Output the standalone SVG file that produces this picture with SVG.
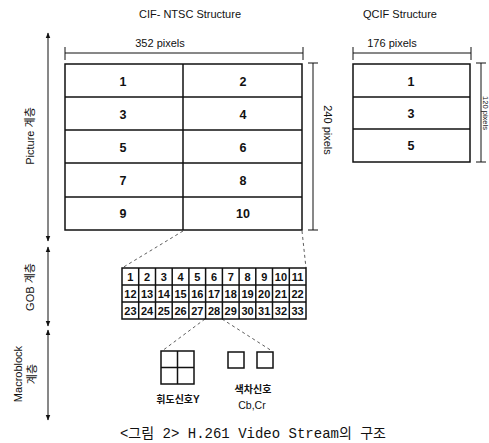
<svg xmlns="http://www.w3.org/2000/svg" width="489" height="443" viewBox="0 0 489 443">
<style>
.t{font-family:"Liberation Sans","Noto Sans CJK KR",sans-serif;fill:#111;}
.ttl{font-size:11px;text-anchor:middle;}
.num{font-size:12.5px;text-anchor:middle;font-weight:bold;}
.g{font-size:11px;text-anchor:middle;font-weight:bold;}
.ln{stroke:#111;stroke-width:1.5;fill:none;}
.thin{stroke:#111;stroke-width:1;fill:none;}
.dash{stroke:#333;stroke-width:0.8;stroke-dasharray:3,3;fill:none;}
.cap{font-family:"Liberation Mono","Noto Sans CJK KR",monospace;font-size:14px;text-anchor:middle;fill:#111;}
</style>
<defs>
<marker id="ah" viewBox="0 0 10 10" refX="9" refY="5" markerWidth="6" markerHeight="6" orient="auto-start-reverse">
<path d="M0,1 L10,5 L0,9 z" fill="#111"/>
</marker>
</defs>
<rect width="489" height="443" fill="#fff"/>

<g id="titles">
<text class="t ttl" x="190" y="18">CIF- NTSC Structure</text>
<text class="t ttl" x="400" y="18">QCIF Structure</text>
</g>

<g id="axis">
<line class="thin" x1="48" y1="33" x2="48" y2="241" marker-start="url(#ah)" marker-end="url(#ah)"/>
<line class="thin" x1="48" y1="247" x2="48" y2="326" marker-start="url(#ah)" marker-end="url(#ah)"/>
<line class="thin" x1="48" y1="330" x2="48" y2="420" marker-start="url(#ah)" marker-end="url(#ah)"/>
<text class="t" font-size="11" text-anchor="middle" transform="translate(34,136) rotate(-90)">Picture 계층</text>
<text class="t" font-size="11" text-anchor="middle" transform="translate(34,287) rotate(-90)">GOB 계층</text>
<text class="t" font-size="11" text-anchor="middle" transform="translate(22,374) rotate(-90)">Macroblock</text>
<text class="t" font-size="11" text-anchor="middle" transform="translate(36,374) rotate(-90)">계층</text>
</g>

<g id="cif">
<text class="t ttl" x="160" y="47">352 pixels</text>
<line class="thin" x1="65" y1="53" x2="303" y2="53"/>
<line class="thin" x1="65" y1="47" x2="65" y2="60"/>
<line class="thin" x1="303" y1="47" x2="303" y2="60"/>
<rect class="ln" x="65" y="64" width="237" height="166"/>
<line class="ln" x1="183" y1="64" x2="183" y2="230"/>
<line class="ln" x1="65" y1="97" x2="302" y2="97"/>
<line class="ln" x1="65" y1="130" x2="302" y2="130"/>
<line class="ln" x1="65" y1="163" x2="302" y2="163"/>
<line class="ln" x1="65" y1="197" x2="302" y2="197"/>
<text class="t num" x="123" y="86">1</text><text class="t num" x="243" y="86">2</text>
<text class="t num" x="123" y="119">3</text><text class="t num" x="243" y="119">4</text>
<text class="t num" x="123" y="152">5</text><text class="t num" x="243" y="152">6</text>
<text class="t num" x="123" y="185">7</text><text class="t num" x="243" y="185">8</text>
<text class="t num" x="123" y="218">9</text><text class="t num" x="243" y="218">10</text>
<line class="thin" x1="313" y1="63" x2="313" y2="230"/>
<line class="thin" x1="308" y1="63" x2="318" y2="63"/>
<line class="thin" x1="308" y1="230" x2="318" y2="230"/>
<text class="t" font-size="11" text-anchor="middle" transform="translate(324,130) rotate(90)">240 pixels</text>
</g>

<g id="qcif">
<text class="t ttl" x="392" y="47">176 pixels</text>
<line class="thin" x1="353" y1="53" x2="471" y2="53"/>
<line class="thin" x1="353" y1="47" x2="353" y2="60"/>
<line class="thin" x1="471" y1="47" x2="471" y2="60"/>
<rect class="ln" x="353" y="64" width="117" height="98"/>
<line class="ln" x1="353" y1="97" x2="470" y2="97"/>
<line class="ln" x1="353" y1="129" x2="470" y2="129"/>
<text class="t num" x="411" y="86">1</text>
<text class="t num" x="411" y="118">3</text>
<text class="t num" x="411" y="150">5</text>
<line class="thin" x1="481" y1="63" x2="481" y2="162"/>
<line class="thin" x1="476" y1="63" x2="486" y2="63"/>
<line class="thin" x1="476" y1="162" x2="486" y2="162"/>
<text class="t" font-size="7.5" text-anchor="middle" transform="translate(482.5,113) rotate(90)">120 pixels</text>
</g>

<g id="connectors">
<line class="dash" x1="183" y1="231" x2="122" y2="268"/>
<line class="dash" x1="302" y1="231" x2="306" y2="268"/>
<line class="dash" x1="205" y1="319" x2="162" y2="351"/>
<line class="dash" x1="222" y1="319" x2="272" y2="351"/>
</g>

<g id="gob">
<rect class="ln" x="122" y="268" width="184" height="51"/>
<line class="ln" x1="122" y1="285" x2="306" y2="285"/>
<line class="ln" x1="122" y1="302" x2="306" y2="302"/>
<line class="ln" x1="138.7" y1="268" x2="138.7" y2="319"/>
<line class="ln" x1="155.5" y1="268" x2="155.5" y2="319"/>
<line class="ln" x1="172.2" y1="268" x2="172.2" y2="319"/>
<line class="ln" x1="188.9" y1="268" x2="188.9" y2="319"/>
<line class="ln" x1="205.6" y1="268" x2="205.6" y2="319"/>
<line class="ln" x1="222.4" y1="268" x2="222.4" y2="319"/>
<line class="ln" x1="239.1" y1="268" x2="239.1" y2="319"/>
<line class="ln" x1="255.8" y1="268" x2="255.8" y2="319"/>
<line class="ln" x1="272.5" y1="268" x2="272.5" y2="319"/>
<line class="ln" x1="289.3" y1="268" x2="289.3" y2="319"/>
<g class="t g">
<text x="130.4" y="281">1</text><text x="147.1" y="281">2</text><text x="163.8" y="281">3</text><text x="180.5" y="281">4</text><text x="197.3" y="281">5</text><text x="214" y="281">6</text><text x="230.7" y="281">7</text><text x="247.5" y="281">8</text><text x="264.2" y="281">9</text><text x="280.9" y="281">10</text><text x="297.6" y="281">11</text>
<text x="130.4" y="298">12</text><text x="147.1" y="298">13</text><text x="163.8" y="298">14</text><text x="180.5" y="298">15</text><text x="197.3" y="298">16</text><text x="214" y="298">17</text><text x="230.7" y="298">18</text><text x="247.5" y="298">19</text><text x="264.2" y="298">20</text><text x="280.9" y="298">21</text><text x="297.6" y="298">22</text>
<text x="130.4" y="315">23</text><text x="147.1" y="315">24</text><text x="163.8" y="315">25</text><text x="180.5" y="315">26</text><text x="197.3" y="315">27</text><text x="214" y="315">28</text><text x="230.7" y="315">29</text><text x="247.5" y="315">30</text><text x="264.2" y="315">31</text><text x="280.9" y="315">32</text><text x="297.6" y="315">33</text>
</g>
</g>

<g id="luma">
<rect class="ln" x="161" y="351" width="33" height="33"/>
<line class="ln" x1="177.5" y1="351" x2="177.5" y2="384"/>
<line class="ln" x1="161" y1="367.5" x2="194" y2="367.5"/>
<text class="t" font-size="10" font-weight="bold" text-anchor="middle" x="178" y="403">휘도신호Y</text>
</g>

<g id="chroma">
<rect class="ln" x="228" y="352" width="16" height="16"/>
<rect class="ln" x="257" y="352" width="16" height="16"/>
<text class="t" font-size="10" font-weight="bold" text-anchor="middle" x="253" y="393">색차신호</text>
<text class="t" font-size="10.5" text-anchor="middle" x="252" y="409">Cb,Cr</text>
</g>

<g id="caption">
<text class="cap" x="253" y="438">&lt;그림 2&gt; H.261 Video Stream의 구조</text>
</g>
</svg>
